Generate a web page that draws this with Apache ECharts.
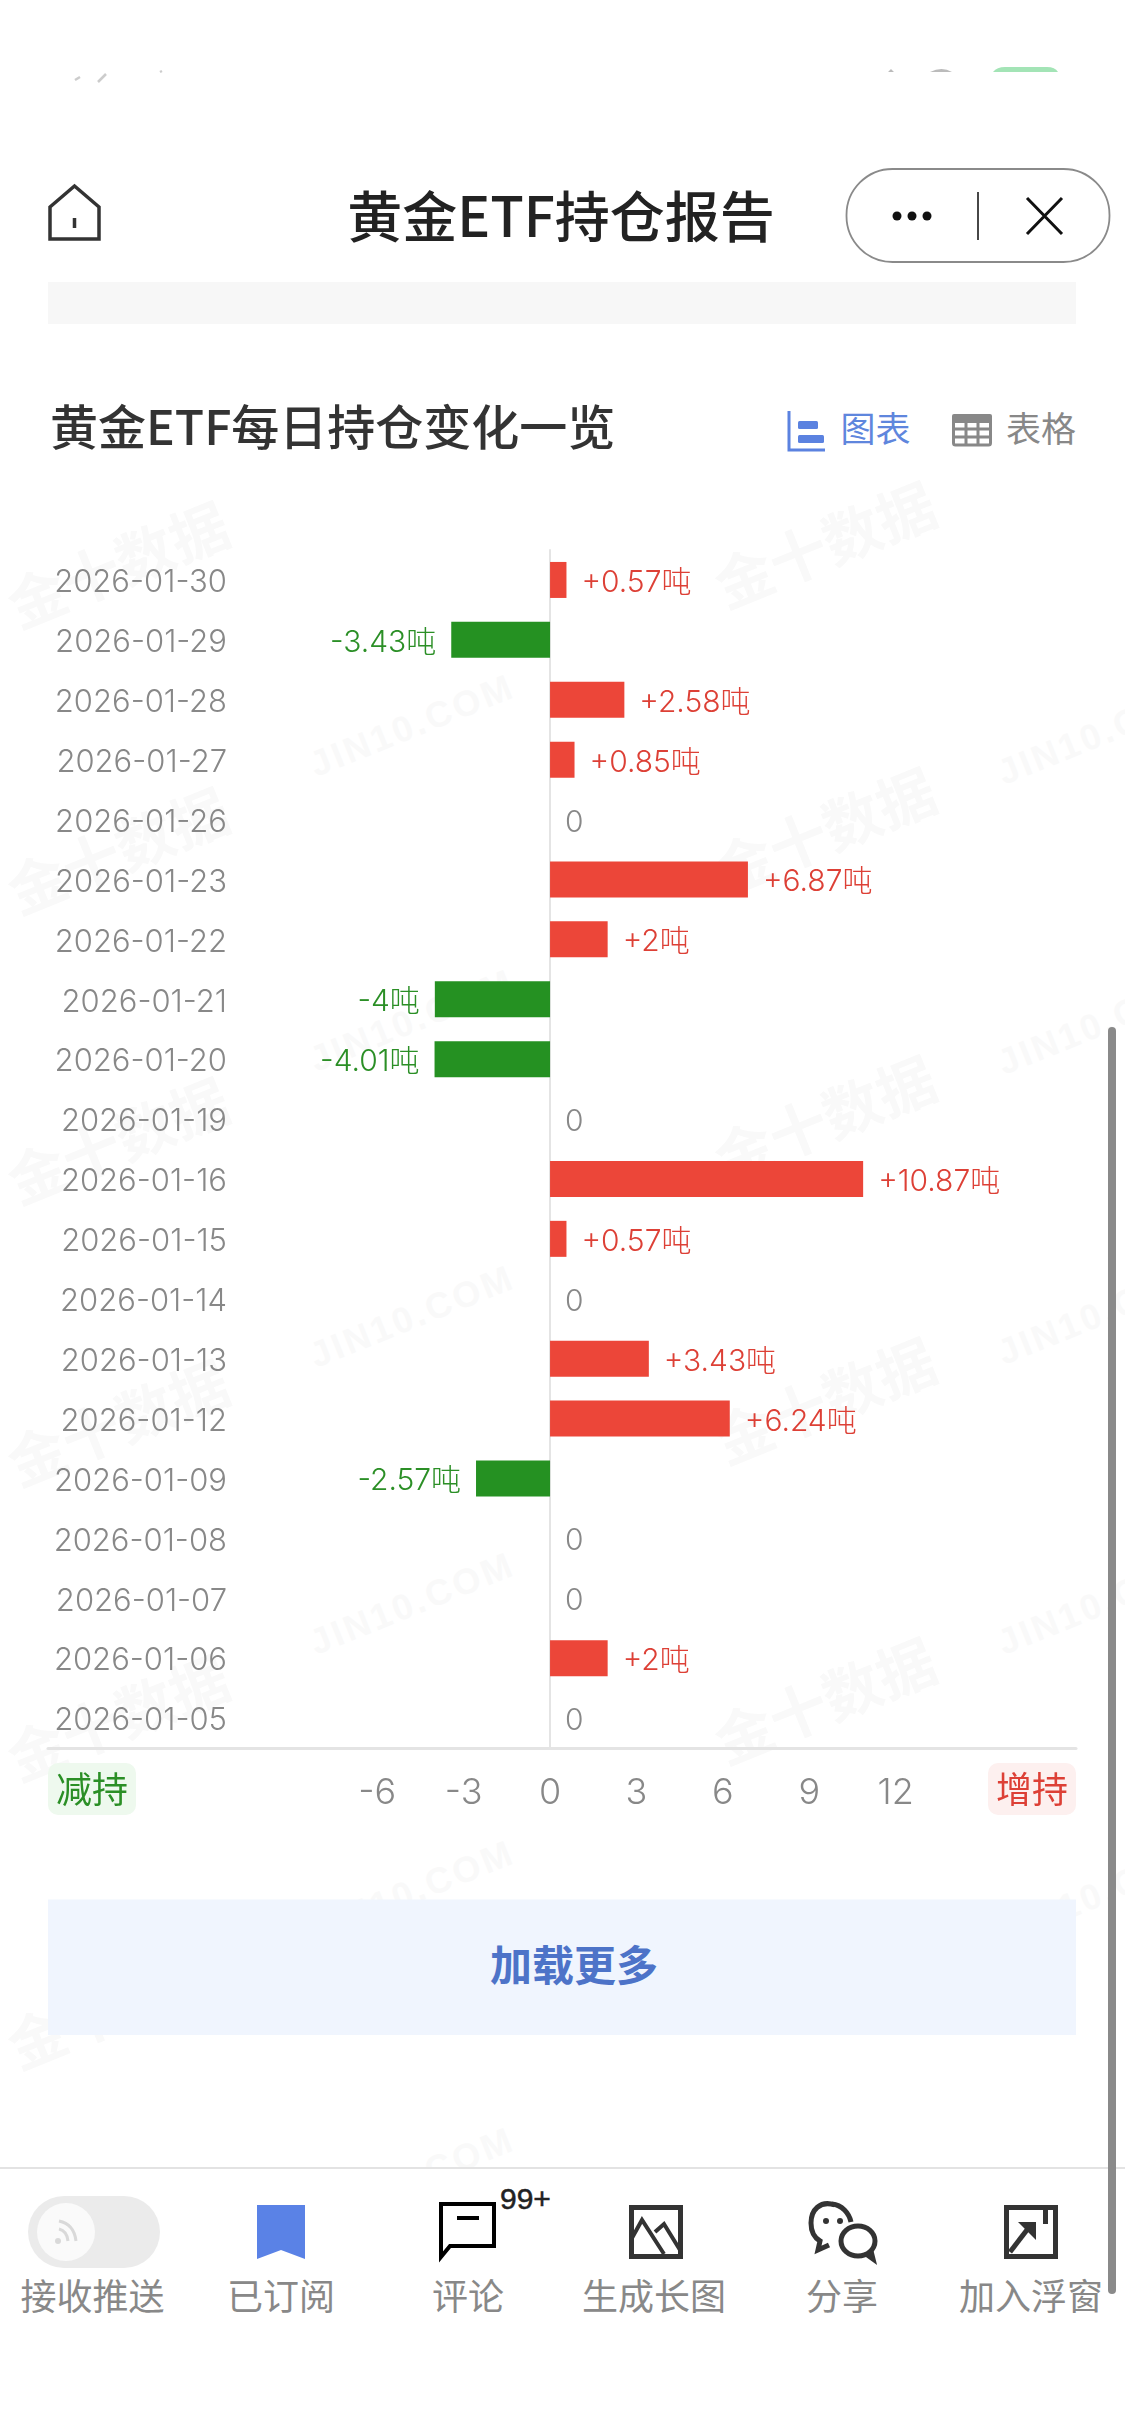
<!DOCTYPE html>
<html lang="zh">
<head>
<meta charset="utf-8">
<title>黄金ETF持仓报告</title>
<script src="https://cdn.jsdelivr.net/npm/echarts@6/dist/echarts.min.js"></script>
<style>
html,body{margin:0;padding:0;background:#fff;width:1125px;height:2436px;overflow:hidden}
#bg{position:absolute;left:0;top:0;width:1125px;height:2436px}
#chart{position:absolute;left:0;top:0;width:1125px;height:2436px}
</style>
</head>
<body>
<svg id="bg" viewBox="0 0 1125 2436" xmlns="http://www.w3.org/2000/svg" font-family="'Noto Sans CJK SC',sans-serif">
  <g id="wm"></g>
  <rect x="0" y="0" width="1125" height="282" fill="#fff"/>
  <rect x="48" y="282" width="1028" height="42" fill="#f7f7f7"/>
  <!-- status bar remnants -->
  <path d="M993 72 q4-5 12-5 h42 q8 0 11 5z" fill="#a3e4b6"/>
  <path d="M888 72 l3-3 3 3z M930 72 q12-6 22 0z" fill="#bbb"/>
  <path d="M75 80 l5-3 M98 82 l8-8 M160 72 l2-1" stroke="#ccc" stroke-width="2.5" fill="none"/>
  <!-- header -->
  <path d="M50 239 V207 L74.500 186 L99 207 V239 Z M74.500 218 V228" fill="none" stroke="#333" stroke-width="3.500"/>
  <text x="561" y="213" font-size="55" font-weight="500" fill="#222" text-anchor="middle" dominant-baseline="central">黄金ETF持仓报告</text>
  <rect x="846.500" y="169" width="263" height="93" rx="46" fill="#fff" stroke="#8a8a8a" stroke-width="1.800"/>
  <circle cx="897" cy="216" r="4.500" fill="#111"/><circle cx="912" cy="216" r="4.500" fill="#111"/><circle cx="927" cy="216" r="4.500" fill="#111"/>
  <line x1="978" y1="192" x2="978" y2="240" stroke="#333" stroke-width="1.800"/>
  <path d="M1027 198 L1062 234 M1062 198 L1027 234" stroke="#111" stroke-width="3" fill="none"/>
  <!-- toggle chart/table -->
  <path d="M789 411 V450 H825" fill="none" stroke="#5b82e0" stroke-width="3"/>
  <rect x="798" y="421" width="20" height="8" rx="1.500" fill="#5b82e0"/><rect x="798" y="435" width="26" height="8" rx="1.500" fill="#5b82e0"/>
  <text x="875.500" y="426" font-size="35" fill="#5f86dd" text-anchor="middle" dominant-baseline="central">图表</text>
  <g fill="none" stroke="#888" stroke-width="3"><rect x="953.500" y="417" width="37" height="28" rx="2"/><path d="M953 429 H991 M953 437 H991 M966 423 V445 M978 423 V445"/></g>
  <rect x="952" y="414" width="40" height="9" rx="2" fill="#888"/>
  <text x="1041" y="426" font-size="35" fill="#888" text-anchor="middle" dominant-baseline="central">表格</text>
  <!-- load more -->
  <rect x="48" y="1899.500" width="1028" height="135.500" fill="#f0f5fe"/>
  <text x="574" y="1962" font-size="42" font-weight="700" fill="#4d73c8" text-anchor="middle" dominant-baseline="central">加载更多</text>
  <!-- bottom bar -->
  <rect x="0" y="2167" width="1125" height="2" fill="#e3e3e3"/>
  <rect x="0" y="2169" width="1125" height="267" fill="#fff"/>
  <rect x="28" y="2196" width="132" height="72" rx="36" fill="#ebebeb"/>
  <circle cx="66" cy="2232" r="29" fill="#fafafa"/>
  <g fill="none" stroke="#d9d9d9" stroke-width="3"><path d="M59 2221 q15 3 17 20"/><path d="M59 2229 q8 2 9 12"/></g><circle cx="58" cy="2241" r="3" fill="#d9d9d9"/>
  <path d="M257 2205 H305 V2259 L281 2250 L257 2259 Z" fill="#5a82e6"/>
  <path d="M441 2204 H494 V2246 H450 L441 2257 Z" fill="none" stroke="#000" stroke-width="4"/>
  <line x1="457" y1="2218" x2="479" y2="2218" stroke="#000" stroke-width="4"/>
  <text x="500" y="2198" font-size="30" font-family="'Liberation Sans',sans-serif" fill="#222" stroke="#222" stroke-width="0.5" dominant-baseline="central">99+</text>
  <g fill="none" stroke="#333" stroke-width="5">
    <rect x="631.500" y="2207.500" width="49" height="49"/>
    <path d="M632 2238 L642 2220 L664 2254 M655 2232 L664 2224 L680 2250" stroke-width="4"/>
  </g>
  <g fill="none" stroke="#333" stroke-width="5">
    <path d="M835 2205 C820 2200 811 2210 811 2223 C811 2232 815 2238 820 2241 L818 2250 L829 2245"/>
    <path d="M832 2204 C842 2205 849 2213 851 2222"/>
    <ellipse cx="858" cy="2241" rx="17" ry="15"/><path d="M866 2254 L873 2259 L871 2251"/>
  </g>
  <circle cx="826" cy="2221" r="3" fill="#333"/><circle cx="840" cy="2221" r="3" fill="#333"/>
  <g fill="none" stroke="#333">
    <rect x="1006.500" y="2207.500" width="49" height="49" stroke-width="5"/>
    <path d="M1010 2252 L1030 2226" stroke-width="5"/>
  </g>
  <path d="M1018 2222 H1036 V2240 Z" fill="#333"/>
  <rect x="1043" y="2210" width="5" height="14" fill="#333"/>
  <g font-size="36" fill="#888" text-anchor="middle" dominant-baseline="central">
    <text x="92.500" y="2294">接收推送</text>
    <text x="281" y="2294">已订阅</text>
    <text x="468" y="2294">评论</text>
    <text x="654" y="2294">生成长图</text>
    <text x="842" y="2294">分享</text>
    <text x="1031" y="2294">加入浮窗</text>
  </g>
  <rect x="1108" y="1027" width="8" height="1267" rx="4" fill="#8a8a8a"/>
</svg>
<div id="chart"></div>
<script>
// ---- chart data ----
const dates = ['2026-01-30','2026-01-29','2026-01-28','2026-01-27','2026-01-26','2026-01-23','2026-01-22','2026-01-21','2026-01-20','2026-01-19','2026-01-16','2026-01-15','2026-01-14','2026-01-13','2026-01-12','2026-01-09','2026-01-08','2026-01-07','2026-01-06','2026-01-05'];
const changes = [0.57,-3.43,2.58,0.85,0,6.87,2,-4,-4.01,0,10.87,0.57,0,3.43,6.24,-2.57,0,0,2,0];
const ticks = [-6,-3,0,3,6,9,12];
const unit = '吨';

const RED = '#ec4639', GREEN = '#259122', REDTXT = '#dd4036', GREENTXT = '#2b8f26', GRAY = '#888888';
const FONT = "Inter,'Noto Sans CJK SC',sans-serif";
const CJK = "'Noto Sans CJK SC',sans-serif";

// faint watermarks
const wmBrand = [[117,562],[824,542],[117,848],[824,828],[117,1138],[824,1116],[117,1420],[824,1398],[117,1715],[824,1698],[117,2003]];
const wmSite = [[412,725],[1100,733],[412,1020],[1100,1023],[412,1316],[1100,1313],[412,1603],[1100,1603],[412,1891],[1100,1893],[412,2178]];
const ns = 'http://www.w3.org/2000/svg', wm = document.getElementById('wm');
function addWm(list, txt, size, fam, sp){
  list.forEach(function(p){
    const t = document.createElementNS(ns,'text');
    t.textContent = txt;
    t.setAttribute('transform','translate('+p[0]+' '+p[1]+') rotate(-22)');
    t.setAttribute('font-size',size);
    t.setAttribute('font-weight','700');
    t.setAttribute('font-family',fam);
    t.setAttribute('letter-spacing',sp);
    t.setAttribute('fill','#f9f9f9');
    t.setAttribute('text-anchor','middle');
    t.setAttribute('dominant-baseline','central');
    wm.appendChild(t);
  });
}
addWm(wmBrand,'金十数据',58,CJK,0);
addWm(wmSite,'JIN10.COM',36,"'Liberation Sans',sans-serif",3);

const barData = changes.map(function(v){
  const c = v > 0 ? REDTXT : v < 0 ? GREENTXT : GRAY;
  return {
    value: v,
    itemStyle: { color: v >= 0 ? RED : GREEN },
    label: {
      position: v < 0 ? 'left' : 'right',
      color: c,
      formatter: v > 0 ? '+' + v + unit : v < 0 ? v + unit : '0'
    }
  };
});

const chart = echarts.init(document.getElementById('chart'), null, { width: 1125, height: 2436 });
chart.setOption({
  backgroundColor: 'transparent',
  animation: false,
  title: {
    text: '黄金ETF每日持仓变化一览',
    left: 45, top: 392,
    textStyle: { fontFamily: CJK, fontSize: 48, fontWeight: 500, color: '#333333', lineHeight: 60 }
  },
  grid: { left: 48, right: 49, top: 550, height: 1198, containLabel: false, outerBoundsMode: 'none' },
  xAxis: {
    type: 'value',
    min: -17.43, max: 18.26,
    splitLine: { show: false },
    axisTick: { show: false },
    axisLine: { show: true, onZero: false, lineStyle: { color: '#e4e4e4', width: 3 } },
    axisLabel: {
      customValues: ticks,
      margin: 27,
      color: GRAY,
      fontFamily: FONT,
      fontWeight: 300,
      fontSize: 36
    }
  },
  yAxis: {
    type: 'category',
    inverse: true,
    data: dates,
    axisTick: { show: false },
    axisLine: { show: true, onZero: true, lineStyle: { color: '#e4e4e4', width: 2 } },
    axisLabel: {
      interval: 0,
      margin: -179,
      color: GRAY,
      fontFamily: FONT,
      fontWeight: 300,
      fontSize: 31,
      formatter: '{d|{value}}',
      rich: { d: { color: GRAY, fontFamily: FONT, fontWeight: 300, fontSize: 31, padding: [6, 0, 0, 0] } }
    }
  },
  series: [{
    type: 'bar',
    data: barData,
    barWidth: 36,
    label: {
      show: true,
      distance: 15,
      fontFamily: FONT,
      fontWeight: 300,
      fontSize: 30,
      offset: [0, 3]
    }
  }],
  graphic: [
    { type: 'rect', shape: { x: 48, y: 1763, width: 88, height: 52, r: 10 }, style: { fill: '#eef9ee' } },
    { type: 'text', style: { text: '减持', x: 92, y: 1789, fill: GREENTXT, font: "36px " + CJK, textAlign: 'center', textVerticalAlign: 'middle' } },
    { type: 'rect', shape: { x: 988, y: 1763, width: 88, height: 52, r: 10 }, style: { fill: '#fdf0ef' } },
    { type: 'text', style: { text: '增持', x: 1032, y: 1789, fill: REDTXT, font: "36px " + CJK, textAlign: 'center', textVerticalAlign: 'middle' } }
  ]
});
</script>
</body>
</html>
